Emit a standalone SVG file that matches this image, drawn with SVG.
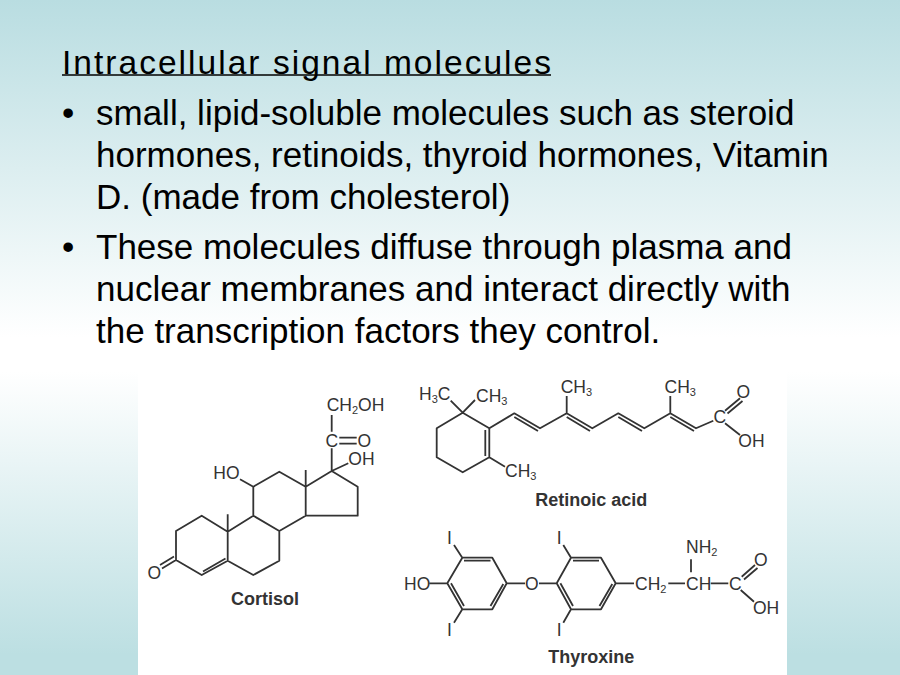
<svg xmlns="http://www.w3.org/2000/svg" width="900" height="675" viewBox="0 0 900 675">
<style>
.b{font-family:"Liberation Sans",Arial,sans-serif;font-size:35px;fill:#000}
.t{font-family:"Liberation Sans",Arial,sans-serif;font-size:33.5px;fill:#000}
.c{font-family:"Liberation Sans",Arial,sans-serif;font-size:17.5px;fill:#333}
.n{font-family:"Liberation Sans",Arial,sans-serif;font-size:18px;font-weight:bold;fill:#333;text-anchor:middle}
.s{font-size:11px}
.l{fill:none;stroke:#333;stroke-width:1.8;stroke-linejoin:round}
</style>
<defs><linearGradient id="bg" x1="0" y1="0" x2="0" y2="1">
<stop offset="0" stop-color="#b9dde1"/><stop offset="0.5" stop-color="#fff"/><stop offset="0.55" stop-color="#fff"/><stop offset="0.97" stop-color="#bcdfe2"/><stop offset="1" stop-color="#bcdfe2"/>
</linearGradient></defs>
<rect width="900" height="675" fill="url(#bg)"/>
<g id="slide-text">
<text class="t" x="62" y="73.5" textLength="489">Intracellular signal molecules</text>
<path d="M62 75H551" stroke="#000" stroke-width="1.6"/>
<text class="b" x="62" y="125">•</text>
<text class="b" x="96" y="125">small, lipid-soluble molecules such as steroid</text>
<text class="b" x="96" y="167">hormones, retinoids, thyroid hormones, Vitamin</text>
<text class="b" x="96" y="209">D. (made from cholesterol)</text>
<text class="b" x="62" y="259">•</text>
<text class="b" x="96" y="259">These molecules diffuse through plasma and</text>
<text class="b" x="96" y="301">nuclear membranes and interact directly with</text>
<text class="b" x="96" y="343">the transcription factors they control.</text>
</g>
<rect id="figure-panel" x="138" y="366" width="649" height="309" fill="#fff"/>
<g id="cortisol">
<path class="l" d="M176 560V531L201.7 515.7 227.7 531.7V560.7L201.7 575 176 560M227.7 560.7L253.3 575 279.3 560.7V531L253.3 515.7 227.7 531.7M253.3 515.7V486.7L279.3 471.7 305.7 486.7V515.7L279.3 531M305.7 515.7H357.7V486.7L331.7 471 305.7 486.7M227.7 531.7V514.3M305.7 486.7V470M253.3 486.7L240 479.3M331.7 471L348.3 463.3M331.7 471V448.3M331.7 415V431.7M339.3 437.7H356.7M339.3 443.7H356.7M203 571.5L225.5 558.5M176 560L162 568.5M174 556.5L160 565"/>
<text class="c" x="147.5" y="578.5">O</text>
<text class="c" x="326.7" y="410.7">CH<tspan class="s" dy="3">2</tspan><tspan dy="-3">OH</tspan></text>
<text class="c" x="325.5" y="446.7">C</text>
<text class="c" x="357.5" y="446.7">O</text>
<text class="c" x="213.3" y="479.3">HO</text>
<text class="c" x="348.3" y="465">OH</text>
<text class="n" x="265" y="605">Cortisol</text>
</g>
<g id="retinoic-acid">
<path class="l" d="M462.7 412.7L489.3 428.3V457.3L462.7 472.3 436.7 457.3V428.3L462.7 412.7M485.3 430V456M462.7 412.7L450.7 400.7M462.7 412.7L475 400M489.3 457.3L505 466.7M489.3 428.3L514.3 413.3 540 428.3 566.7 413.3 592.3 428.3 618.3 413.3 644.3 428.3 670.3 413.3 696 428.3 713.3 420.7M514.3 417L538 431M566.7 417L590 431M618.3 417L642 431M670.3 417L694 431M566.7 413.3V396M670.3 413.3V396M725 410.7L740 398.3M727.5 413.5L742.5 401M725 423.3L740 435"/>
<text class="c" x="419" y="400">H<tspan class="s" dy="3">3</tspan><tspan dy="-3">C</tspan></text>
<text class="c" x="476" y="402.3">CH<tspan class="s" dy="3">3</tspan></text>
<text class="c" x="560.7" y="393.3">CH<tspan class="s" dy="3">3</tspan></text>
<text class="c" x="664.5" y="393.3">CH<tspan class="s" dy="3">3</tspan></text>
<text class="c" x="505" y="477.3">CH<tspan class="s" dy="3">3</tspan></text>
<text class="c" x="713.5" y="422.5">C</text>
<text class="c" x="736.5" y="397.5">O</text>
<text class="c" x="738.3" y="446.7">OH</text>
<text class="n" x="591.3" y="505.7">Retinoic acid</text>
</g>
<g id="thyroxine">
<path class="l" d="M447.3 583.3L462.3 557.7H492.3L506.7 583.3 492.3 609.3H462.3L447.3 583.3M464 560.7H490.5M451 583.3L464 606M503.3 584L490.5 606M429.3 583.3H447.3M506.7 583.3H525M539 583.3H556.7M556.7 583.3L571 557.7H601L615.7 583.3 601 609.3H571L556.7 583.3M573 560.7H599M560.4 583.3L573 606M612.3 584L599.5 606M615.7 583.3H634M668.3 583.3H685M710.7 583.3H728.3M454 545L462.3 557.7M462.3 609.3L454 622.7M563.3 545L571 557.7M571 609.3L563.3 622.7M691 559.3V572.3M741.7 576.7L755 565M744 579.5L757.5 568M740.7 590L754 601.7"/>
<text class="c" x="404" y="590">HO</text>
<text class="c" x="525" y="590">O</text>
<text class="c" x="447" y="544">I</text>
<text class="c" x="447" y="636">I</text>
<text class="c" x="556.7" y="544">I</text>
<text class="c" x="556.7" y="636">I</text>
<text class="c" x="635" y="590">CH<tspan class="s" dy="3">2</tspan></text>
<text class="c" x="686" y="590">CH</text>
<text class="c" x="729" y="590">C</text>
<text class="c" x="686" y="553.3">NH<tspan class="s" dy="3">2</tspan></text>
<text class="c" x="754" y="566">O</text>
<text class="c" x="753" y="614.3">OH</text>
<text class="n" x="591.3" y="662.7">Thyroxine</text>
</g>
</svg>
